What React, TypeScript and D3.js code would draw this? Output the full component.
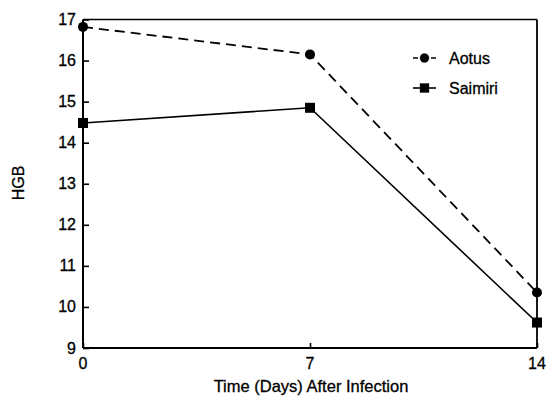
import * as d3 from "d3";
import { useEffect, useRef } from "react";

const days = [0, 7, 14];
const aotus = [16.82, 16.15, 10.35];
const saimiri = [14.48, 14.85, 9.62];
const yTicks = [9, 10, 11, 12, 13, 14, 15, 16, 17];
const xTicks = [0, 7, 14];

export default function App() {
  const ref = useRef<SVGSVGElement>(null);

  useEffect(() => {
    if (!ref.current) return;
    const el = ref.current;
    d3.select(el).selectAll("*").remove();

    const W = 552;
    const H = 401;
    const left = 83, right = 537, top = 19.5, bottom = 348;
    const font = "Liberation Sans, Arial, sans-serif";

    const svg = d3.select(el).attr("viewBox", `0 0 ${W} ${H}`);
    svg.append("rect").attr("width", W).attr("height", H).attr("fill", "#fff");

    const x = d3.scaleLinear().domain([0, 14]).range([left, right]);
    const y = d3.scaleLinear().domain([9, 17]).range([bottom, top]);

    // frame
    svg.append("line").attr("x1", left).attr("x2", right).attr("y1", top).attr("y2", top)
      .attr("stroke", "#000").attr("stroke-width", 1.6);
    svg.append("line").attr("x1", right).attr("x2", right).attr("y1", top).attr("y2", bottom)
      .attr("stroke", "#000").attr("stroke-width", 1.8);

    // Y axis
    svg.append("g")
      .attr("transform", `translate(${left},0)`)
      .call(d3.axisRight(y).tickValues(yTicks).tickSize(6).tickFormat(() => ""))
      .call(g => g.select(".domain").attr("stroke-width", 2).attr("d", `M0,${top}V${bottom}`))
      .call(g => g.selectAll("line").attr("stroke-width", 1.6));

    svg.append("g")
      .selectAll("text")
      .data(yTicks)
      .join("text")
      .attr("x", left - 7)
      .attr("y", d => y(d) + 5.5)
      .attr("text-anchor", "end")
      .attr("font-family", font)
      .attr("font-size", 16)
      .attr("stroke", "#000").attr("stroke-width", 0.3)
      .text(d => d);

    // X axis
    svg.append("g")
      .attr("transform", `translate(0,${bottom})`)
      .call(d3.axisTop(x).tickValues(xTicks).tickSize(5).tickFormat(() => ""))
      .call(g => g.select(".domain").attr("stroke-width", 2).attr("d", `M${left},0H${right}`))
      .call(g => g.selectAll("line").attr("stroke-width", 1.6));

    svg.append("g")
      .selectAll("text")
      .data(xTicks)
      .join("text")
      .attr("x", d => x(d))
      .attr("y", bottom + 21)
      .attr("text-anchor", "middle")
      .attr("font-family", font)
      .attr("font-size", 16)
      .attr("stroke", "#000").attr("stroke-width", 0.3)
      .text(d => d);

    svg.append("text")
      .attr("x", 311)
      .attr("y", 392)
      .attr("text-anchor", "middle")
      .attr("font-family", font)
      .attr("font-size", 16.5)
      .attr("stroke", "#000").attr("stroke-width", 0.3)
      .text("Time (Days) After Infection");

    svg.append("text")
      .attr("transform", `translate(24,183) rotate(-90)`)
      .attr("text-anchor", "middle")
      .attr("font-family", font)
      .attr("font-size", 16)
      .attr("stroke", "#000").attr("stroke-width", 0.3)
      .text("HGB");

    const line = d3.line<number>().x((_, i) => x(days[i])).y(d => y(d));

    svg.append("path").attr("d", line(aotus)).attr("fill", "none")
      .attr("stroke", "#000").attr("stroke-width", 1.8).attr("stroke-dasharray", "10 6");
    svg.append("path").attr("d", line(saimiri)).attr("fill", "none")
      .attr("stroke", "#000").attr("stroke-width", 1.6);

    svg.append("g").selectAll("circle").data(aotus).join("circle")
      .attr("cx", (_, i) => x(days[i])).attr("cy", d => y(d)).attr("r", 5).attr("fill", "#000");
    svg.append("g").selectAll("rect").data(saimiri).join("rect")
      .attr("x", (_, i) => x(days[i]) - 5).attr("y", d => y(d) - 5)
      .attr("width", 10).attr("height", 10).attr("fill", "#000");

    // legend
    const lg = svg.append("g").attr("font-family", font).attr("font-size", 16)
      .attr("stroke", "#000").attr("stroke-width", 0.3);
    lg.append("line").attr("x1", 413).attr("x2", 436).attr("y1", 58).attr("y2", 58)
      .attr("stroke", "#000").attr("stroke-width", 1.6).attr("stroke-dasharray", "5 4");
    lg.append("circle").attr("cx", 424.5).attr("cy", 58).attr("r", 4.5).attr("fill", "#000");
    lg.append("text").attr("x", 449).attr("y", 64).text("Aotus");
    lg.append("line").attr("x1", 413).attr("x2", 436).attr("y1", 88).attr("y2", 88)
      .attr("stroke", "#000").attr("stroke-width", 1.6);
    lg.append("rect").attr("x", 420).attr("y", 83.5).attr("width", 9).attr("height", 9).attr("fill", "#000");
    lg.append("text").attr("x", 449).attr("y", 94).text("Saimiri");
  }, []);

  return (
    <svg
      ref={ref}
      width={552}
      height={401}
      style={{ position: "fixed", left: 0, top: 0, display: "block" }}
    />
  );
}
